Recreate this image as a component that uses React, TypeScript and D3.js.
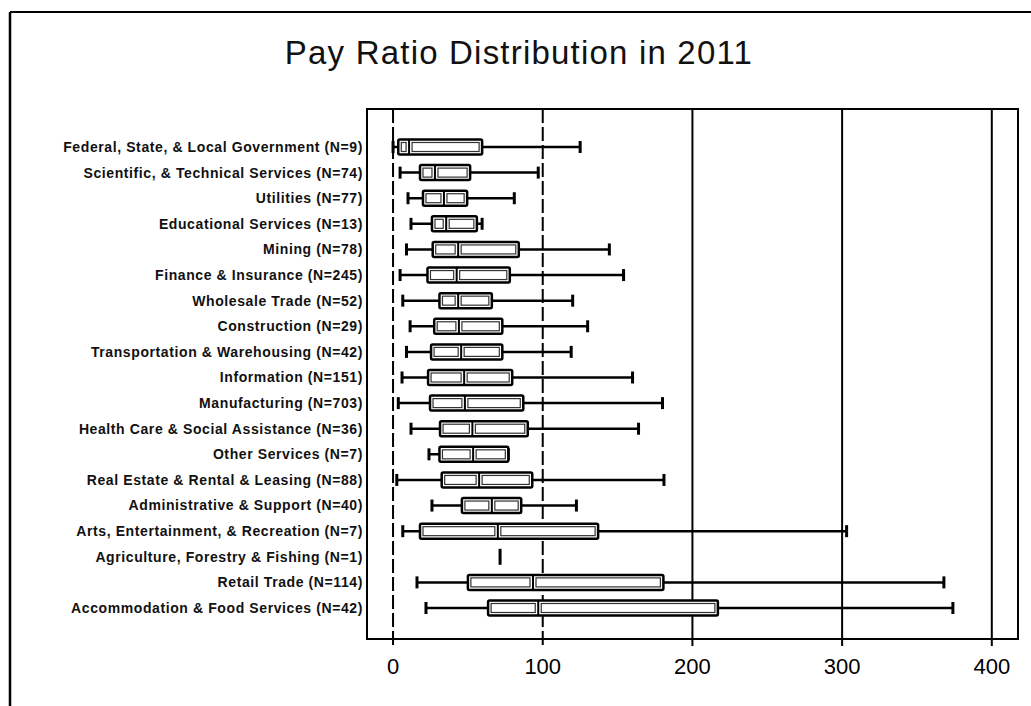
import * as d3 from "d3";
import { useEffect, useRef } from "react";

// industries, top to bottom
const categories = [
  "Federal, State, & Local Government (N=9)",
  "Scientific, & Technical Services (N=74)",
  "Utilities (N=77)",
  "Educational Services (N=13)",
  "Mining (N=78)",
  "Finance & Insurance (N=245)",
  "Wholesale Trade (N=52)",
  "Construction (N=29)",
  "Transportation & Warehousing (N=42)",
  "Information (N=151)",
  "Manufacturing (N=703)",
  "Health Care & Social Assistance (N=36)",
  "Other Services (N=7)",
  "Real Estate & Rental & Leasing (N=88)",
  "Administrative & Support (N=40)",
  "Arts, Entertainment, & Recreation (N=7)",
  "Agriculture, Forestry & Fishing (N=1)",
  "Retail Trade (N=114)",
  "Accommodation & Food Services (N=42)",
];

// five-number summaries, same order as categories
const minValues = [0, 4.7, 10, 12, 9, 4.7, 6.5, 11.4, 9, 6, 3.5, 12, 24, 2.5, 26, 6.5, 71.5, 16, 22];
const q1Values = [3.5, 18, 20, 26, 26.5, 23, 31, 27.5, 25.4, 23.4, 24.7, 31.4, 31, 32.5, 46, 18, 71.5, 50, 63.5];
const medianValues = [10.7, 28, 34, 35.5, 43.5, 42.5, 43.5, 44, 45.5, 47.5, 48, 53, 53.5, 57.5, 66, 70, 71.5, 93.5, 97];
const q3Values = [59.5, 51.5, 49.5, 56, 84, 78, 66, 73, 73, 79.6, 87, 90, 77, 93, 85.6, 137, 71.5, 180.6, 217];
const maxValues = [125, 97, 81, 59.5, 144.5, 154, 120, 130, 119, 160, 180, 164, 77, 181, 122.5, 303, 71.5, 368, 374];

const xTicks = [0, 100, 200, 300, 400];
const dashedTicks = [0, 100];

const W = 1031;
const H = 706;

export default function App() {
  const ref = useRef<SVGSVGElement>(null);

  useEffect(() => {
    document.body.style.margin = "0";
    const svg = d3.select(ref.current);
    svg.selectAll("*").remove();

    const frame = { left: 367, right: 1018, top: 109, bottom: 639 };

    const x = d3.scaleLinear().domain([-17.4, 417.5]).range([frame.left, frame.right]);
    const y = d3.scalePoint<string>().domain(categories).range([147, 608]);

    // outer page border (top + left only, as scanned)
    svg.append("line").attr("x1", 10).attr("x2", W).attr("y1", 12).attr("y2", 12)
      .attr("stroke", "#000").attr("stroke-width", 2);
    svg.append("line").attr("x1", 10).attr("x2", 10).attr("y1", 12).attr("y2", H)
      .attr("stroke", "#000").attr("stroke-width", 2.5);

    svg.append("text")
      .attr("x", 519).attr("y", 64)
      .attr("text-anchor", "middle")
      .attr("font-family", "Liberation Sans, Arial, sans-serif")
      .attr("font-size", 33)
      .attr("letter-spacing", 1.2)
      .attr("fill", "#111")
      .text("Pay Ratio Distribution in 2011");

    // gridlines
    svg.append("g").selectAll("line").data(xTicks).join("line")
      .attr("x1", (d) => x(d)).attr("x2", (d) => x(d))
      .attr("y1", frame.top).attr("y2", frame.bottom + 7)
      .attr("stroke", "#000")
      .attr("stroke-width", 2)
      .attr("stroke-dasharray", (d) => (dashedTicks.includes(d) ? "14,4" : null));

    // plot frame
    svg.append("rect")
      .attr("x", frame.left).attr("y", frame.top)
      .attr("width", frame.right - frame.left).attr("height", frame.bottom - frame.top)
      .attr("fill", "none").attr("stroke", "#000").attr("stroke-width", 2);

    // x axis labels
    svg.append("g").selectAll("text").data(xTicks).join("text")
      .attr("x", (d) => x(d)).attr("y", 674)
      .attr("text-anchor", "middle")
      .attr("font-family", "Liberation Sans, Arial, sans-serif")
      .attr("font-size", 22)
      .attr("fill", "#000")
      .text((d) => d3.format("d")(d));

    // category labels
    svg.append("g").selectAll("text").data(categories).join("text")
      .attr("x", 363).attr("y", (d) => y(d)!)
      .attr("dy", "0.35em")
      .attr("text-anchor", "end")
      .attr("font-family", "Liberation Sans, Arial, sans-serif")
      .attr("font-size", 14)
      .attr("letter-spacing", 0.6)
      .attr("font-weight", "bold")
      .attr("fill", "#111")
      .text((d) => d);

    const rows = categories.map((c, i) => ({
      c,
      min: minValues[i],
      q1: q1Values[i],
      med: medianValues[i],
      q3: q3Values[i],
      max: maxValues[i],
    }));

    const boxH = 15;
    const capH = 12;
    const g = svg.append("g");

    rows.forEach((r) => {
      const cy = y(r.c)!;
      const row = g.append("g");
      if (r.q3 - r.q1 < 0.5) {
        // single observation: just a mark
        row.append("line")
          .attr("x1", x(r.med)).attr("x2", x(r.med))
          .attr("y1", cy - 8).attr("y2", cy + 8)
          .attr("stroke", "#000").attr("stroke-width", 3);
        return;
      }
      // whiskers
      row.append("line")
        .attr("x1", x(r.min)).attr("x2", x(r.max))
        .attr("y1", cy).attr("y2", cy)
        .attr("stroke", "#000").attr("stroke-width", 2.5);
      [r.min, r.max].forEach((v) => {
        row.append("line")
          .attr("x1", x(v)).attr("x2", x(v))
          .attr("y1", cy - capH / 2).attr("y2", cy + capH / 2)
          .attr("stroke", "#000").attr("stroke-width", 3);
      });
      // box
      row.append("rect")
        .attr("x", x(r.q1)).attr("y", cy - boxH / 2)
        .attr("width", x(r.q3) - x(r.q1)).attr("height", boxH)
        .attr("rx", 1.5)
        .attr("fill", "#fff").attr("stroke", "#000").attr("stroke-width", 2.5);
      // inner halves (double outline look)
      const halves: [number, number][] = [[r.q1, r.med], [r.med, r.q3]];
      halves.forEach(([a, b]) => {
        const w = x(b) - x(a) - 6;
        if (w <= 1) return;
        row.append("rect")
          .attr("x", x(a) + 3).attr("y", cy - boxH / 2 + 3)
          .attr("width", w).attr("height", boxH - 6)
          .attr("fill", "#fff").attr("stroke", "#333").attr("stroke-width", 1.2);
      });
      // median
      row.append("line")
        .attr("x1", x(r.med)).attr("x2", x(r.med))
        .attr("y1", cy - boxH / 2).attr("y2", cy + boxH / 2)
        .attr("stroke", "#000").attr("stroke-width", 2);
    });
  }, []);

  return <svg ref={ref} width={W} height={H} style={{ display: "block", background: "#fff" }} />;
}
